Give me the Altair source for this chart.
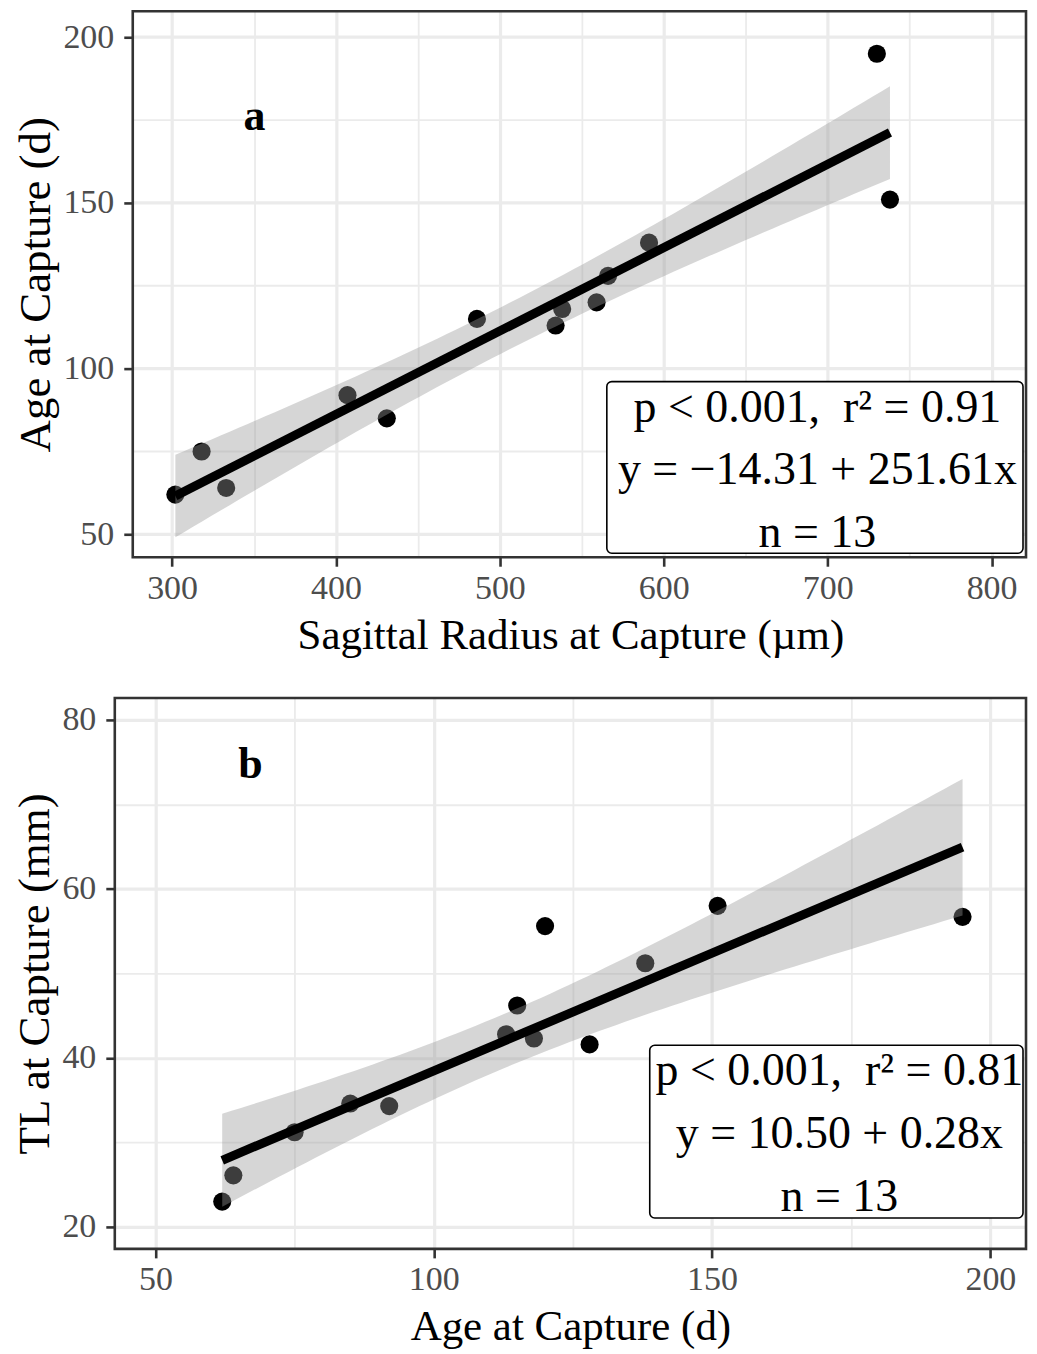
import altair as alt
import pandas as pd
import numpy as np

# ---- data ----
radius_um = [302, 318, 333, 407, 431, 486, 534, 538, 559, 566, 591, 730, 738]
age_a = [62, 75, 64, 92, 85, 115, 113, 118, 120, 128, 138, 195, 151]

age_b = [62, 64, 75, 85, 92, 113, 115, 118, 120, 128, 138, 151, 195]
tl_b = [23.0, 26.1, 31.2, 34.6, 34.3, 42.8, 46.2, 42.3, 55.6, 41.6, 51.2, 58.0, 56.7]

xa_major = [300, 400, 500, 600, 700, 800]
xa_all = [300, 350, 400, 450, 500, 550, 600, 650, 700, 750, 800]
ya_major = [50, 100, 150, 200]
ya_all = [50, 75, 100, 125, 150, 175, 200]
xb_major = [50, 100, 150, 200]
xb_all = [50, 75, 100, 125, 150, 175, 200]
yb_major = [20, 40, 60, 80]
yb_all = [20, 30, 40, 50, 60, 70, 80]

lines_a = ["p < 0.001,\u00a0 r² = 0.91", "y = \u221214.31 + 251.61x", "n = 13"]
lines_b = ["p < 0.001,\u00a0 r² = 0.81", "y = 10.50 + 0.28x", "n = 13"]

FONT = "Liberation Serif"
GRID = "#ebebeb"
BORDER = "#333333"


def ci_band(x, y, n=80):
    x = np.asarray(x, float)
    y = np.asarray(y, float)
    b1, b0 = np.polyfit(x, y, 1)
    xs = np.linspace(x.min(), x.max(), n)
    res = y - (b0 + b1 * x)
    s = np.sqrt((res ** 2).sum() / (len(x) - 2))
    sxx = ((x - x.mean()) ** 2).sum()
    se = s * np.sqrt(1 / len(x) + (xs - x.mean()) ** 2 / sxx)
    t = 2.200985  # t(0.975, df=11)
    fit = b0 + b1 * xs
    return pd.DataFrame({"x": xs, "lo": fit - t * se, "hi": fit + t * se})


def make_axis(title, all_vals, major_vals, grid=True, offset=0):
    test = "indexof(%s, datum.value) >= 0" % str(major_vals)
    kw = dict(
        title=title,
        values=all_vals,
        labelExpr="indexof(%s, datum.value) >= 0 ? datum.label : ''" % str(major_vals),
        tickOpacity={"condition": {"test": test, "value": 1}, "value": 0},
        grid=grid,
        offset=offset,
    )
    if grid:
        kw["gridWidth"] = {"condition": {"test": test, "value": 3.2}, "value": 1.8}
    return alt.Axis(**kw)


def panel(xv, yv, xdom, ydom, xaxis, yaxis, w, h, left, letter, letter_pos,
          lines, box, text_pos, hgrid=None):
    df = pd.DataFrame({"x": xv, "y": yv})
    band_df = ci_band(xv, yv)
    xs = alt.Scale(domain=xdom, nice=False, zero=False)
    ys = alt.Scale(domain=ydom, nice=False, zero=False)

    layers = []
    if hgrid is not None:
        gvals, gmajor = hgrid
        gdf = pd.DataFrame({"v": gvals, "major": [v in gmajor for v in gvals]})
        layers.append(
            alt.Chart(gdf).mark_rule(color=GRID).encode(
                y=alt.Y("v:Q", scale=ys),
                x=alt.value(left), x2=alt.value(w),
                strokeWidth=alt.condition("datum.major", alt.value(3.2), alt.value(1.8)),
            )
        )

    pts = alt.Chart(df).mark_circle(size=330, color="black", opacity=1).encode(
        x=alt.X("x:Q", scale=xs, axis=xaxis),
        y=alt.Y("y:Q", scale=ys, axis=yaxis),
    )
    band = alt.Chart(band_df).mark_area(color="#999999", opacity=0.4).encode(
        x=alt.X("x:Q", scale=xs), y=alt.Y("lo:Q", scale=ys), y2="hi:Q"
    )
    line = alt.Chart(df).transform_regression("x", "y", method="linear").mark_line(
        color="black", strokeWidth=9
    ).encode(x=alt.X("x:Q", scale=xs), y=alt.Y("y:Q", scale=ys))

    one = pd.DataFrame({"k": [0]})
    border = alt.Chart(one).mark_rect(
        fillOpacity=0, stroke=BORDER, strokeWidth=2.6
    ).encode(x=alt.value(left), x2=alt.value(w), y=alt.value(0), y2=alt.value(h))
    lab = alt.Chart(one).mark_text(
        text=letter, font=FONT, fontSize=44, fontWeight="bold", color="black",
        align="center", baseline="middle"
    ).encode(x=alt.value(letter_pos[0]), y=alt.value(letter_pos[1]))
    rect = alt.Chart(one).mark_rect(
        fill="white", stroke="black", strokeWidth=1.6, cornerRadius=5
    ).encode(x=alt.value(box[0]), x2=alt.value(box[1]), y=alt.value(box[2]), y2=alt.value(box[3]))
    texts = []
    for i, t in enumerate(lines):
        texts.append(
            alt.Chart(one).mark_text(
                text=t, font=FONT, fontSize=46, color="black", align="center", baseline="middle"
            ).encode(x=alt.value(text_pos[0]), y=alt.value(text_pos[1] + i * text_pos[2]))
        )
    layers += [pts, band, line, border, lab, rect] + texts
    return alt.layer(*layers).properties(width=w, height=h)


# panel a: plot frame starts 18 px right of the view origin (as in the figure)
A_W, A_H, A_LEFT = 913, 547, 18
a_x_lo = 276 - A_LEFT * (821 - 276) / (A_W - A_LEFT)
pa = panel(
    radius_um, age_a, [a_x_lo, 821], [43.1, 207.8],
    make_axis("Sagittal Radius at Capture (µm)", xa_all, xa_major),
    make_axis("Age at Capture (d)", ya_all, ya_major, grid=False, offset=-A_LEFT),
    A_W, A_H, A_LEFT, "a", (140, 106), lines_a, (493, 910, 371, 543), (704, 397, 63),
    hgrid=(ya_all, ya_major),
)
pb = panel(
    age_b, tl_b, [42.7, 206.4], [17.4, 82.6],
    make_axis("Age at Capture (d)", xb_all, xb_major),
    make_axis("TL at Capture (mm)", yb_all, yb_major),
    913, 552, 0, "b", (136, 67), lines_b, (536, 910, 348, 521), (726, 374, 63),
)

chart = alt.vconcat(pa, pb, spacing=38).properties(
    padding={"left": 4, "top": 0, "right": 0, "bottom": 0}, background="white"
).configure_view(
    stroke="transparent"
).configure_axis(
    labelFont=FONT, titleFont=FONT, labelFontSize=34, titleFontSize=43,
    labelColor="#4d4d4d", titleColor="black", titleFontWeight="normal",
    tickColor=BORDER, tickWidth=2.6, tickSize=9, gridColor=GRID,
    domain=False, labelPadding=5, titlePadding=9,
).configure_axisY(labelPadding=10, titlePadding=4, titleFontSize=45)

chart.save("out.html", embed_options={"renderer": "svg", "actions": False})
